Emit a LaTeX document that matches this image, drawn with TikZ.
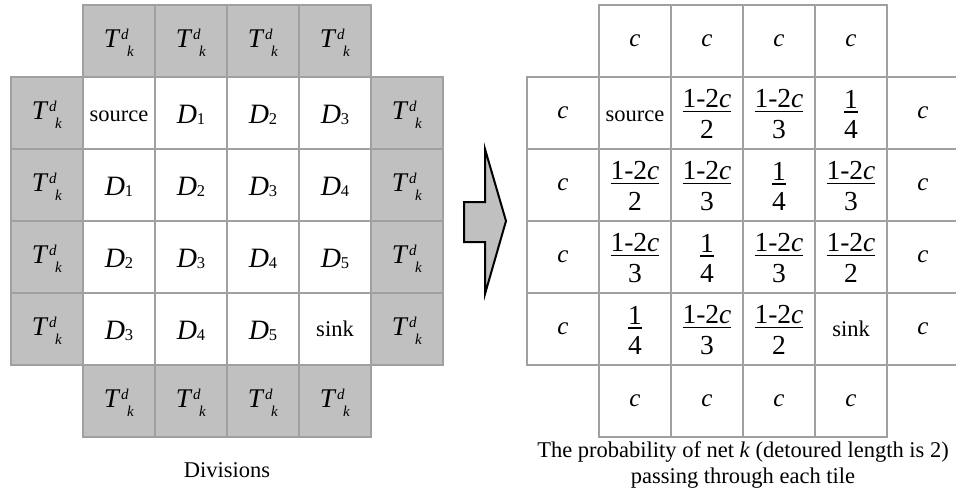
\documentclass[tikz,border=0pt]{standalone}
\usepackage{fontspec}
\usepackage{graphicx}
\setmainfont{Liberation Serif}
\definecolor{cellgray}{HTML}{C0C0C0}
\definecolor{linegray}{HTML}{A0A0A0}
% T^d_k : T baseline 6pt below the cell centre
\newcommand\Tdk{\raisebox{0pt}[12pt][0pt]{{\fontsize{27}{27}\selectfont\textit{T}}\kern0.5pt\raisebox{8pt}{\fontsize{15}{15}\selectfont\textit{d}}\kern-1.5pt\raisebox{-9pt}{\fontsize{15}{15}\selectfont\textit{k}}}}
% D_n : baseline 10pt below the cell centre
\newcommand\Dn[1]{\raisebox{0pt}[20pt][0pt]{{\fontsize{28}{28}\selectfont\textit{D}}\raisebox{-1pt}{\fontsize{16.5}{16.5}\selectfont #1}}}
\newcommand\cv{\raisebox{0pt}[10pt][0pt]{\fontsize{25}{25}\selectfont\textit{c}}}
\newcommand\wtxt[2]{\raisebox{0pt}[#1][0pt]{\fontsize{22.5}{22.5}\selectfont #2}}
\newcommand\frc[2]{\raisebox{0pt}[51pt][0pt]{\fontsize{27.5}{27.5}\selectfont
  \setbox0\hbox{#1}\setbox2\hbox{#2}%
  \dimen0=\ifdim\wd0>\wd2 \wd0\else\wd2\fi
  \vbox{\hbox to\dimen0{\hss\box0\hss}\kern2.7pt\hrule height 1.6pt\kern7.9pt\hbox to\dimen0{\hss\box2\hss}}}}
\newcommand\one{1-2\textit{c}}
\tikzset{
  cell/.style={draw=linegray, line width=1.6pt, minimum width=72pt, minimum height=72pt, inner sep=0pt, outer sep=0pt, anchor=north west},
  gcell/.style={cell, fill=cellgray},
  wcell/.style={cell, fill=white},
  captxt/.style={inner sep=0pt, anchor=base, font=\fontsize{22.5}{22.5}\selectfont}
}
\begin{document}
\begin{tikzpicture}[x=1pt,y=-1pt]
\useasboundingbox (0,0) rectangle (956,501);
\clip (0,0) rectangle (956,501);
% ---------- left grid ----------
\foreach \c in {1,...,4} {
  \node[gcell] (LT\c) at (11+72*\c,5) {\Tdk};
  \node[gcell] (LB\c) at (11+72*\c,365) {\Tdk};
}
\foreach \r in {1,...,4} {
  \node[gcell] (LL\r) at (11,5+72*\r) {\Tdk};
  \node[gcell] (LR\r) at (371,5+72*\r) {\Tdk};
}
\foreach \r/\c/\t in {
  1/1/{\wtxt{16pt}{source}}, 1/2/{\Dn{1}}, 1/3/{\Dn{2}}, 1/4/{\Dn{3}},
  2/1/{\Dn{1}}, 2/2/{\Dn{2}}, 2/3/{\Dn{3}}, 2/4/{\Dn{4}},
  3/1/{\Dn{2}}, 3/2/{\Dn{3}}, 3/3/{\Dn{4}}, 3/4/{\Dn{5}},
  4/1/{\Dn{3}}, 4/2/{\Dn{4}}, 4/3/{\Dn{5}}, 4/4/{\wtxt{14pt}{sink}}} {
  \node[wcell] (L\r\c) at (11+72*\c,5+72*\r) {\t};
}
\node[captxt] (capL) at (227,477) {Divisions};
% ---------- arrow ----------
\draw[line width=2pt, fill=cellgray, line join=miter]
  (464,202) -- (485,202) -- (485,149) -- (506,221) -- (485,294) -- (485,242) -- (464,242) -- cycle;
% ---------- right grid ----------
\foreach \c in {1,...,4} {
  \node[wcell] (RT\c) at (527+72*\c,5) {\cv};
  \node[wcell] (RB\c) at (527+72*\c,365) {\cv};
}
\foreach \r in {1,...,4} {
  \node[wcell] (RL\r) at (527,5+72*\r) {\cv};
  \node[wcell] (RR\r) at (887,5+72*\r) {\cv};
}
\foreach \r/\c/\t in {
  1/1/{\wtxt{16pt}{source}}, 1/2/{\frc{\one}{2}}, 1/3/{\frc{\one}{3}}, 1/4/{\frc{1}{4}},
  2/1/{\frc{\one}{2}}, 2/2/{\frc{\one}{3}}, 2/3/{\frc{1}{4}}, 2/4/{\frc{\one}{3}},
  3/1/{\frc{\one}{3}}, 3/2/{\frc{1}{4}}, 3/3/{\frc{\one}{3}}, 3/4/{\frc{\one}{2}},
  4/1/{\frc{1}{4}}, 4/2/{\frc{\one}{3}}, 4/3/{\frc{\one}{2}}, 4/4/{\wtxt{14pt}{sink}}} {
  \node[wcell] (R\r\c) at (527+72*\c,5+72*\r) {\t};
}
\node[captxt] (capR1) at (743,457) {The probability of net \textit{k} (detoured length is 2)};
\node[captxt] (capR2) at (743,483) {passing through each tile};
\end{tikzpicture}
\end{document}
